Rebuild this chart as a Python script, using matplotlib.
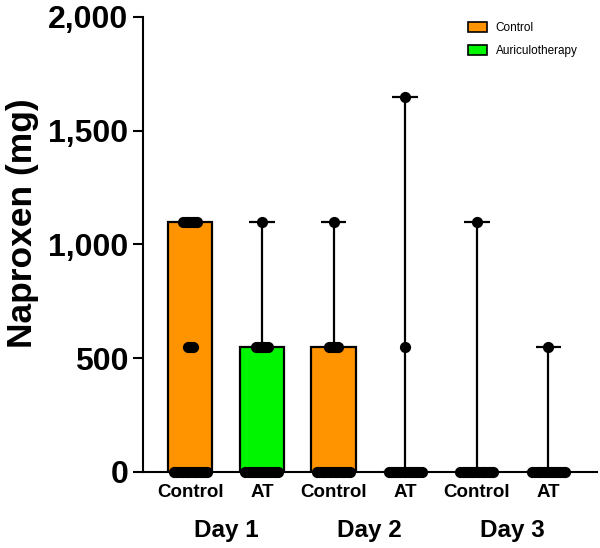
import numpy as np
import matplotlib
matplotlib.use("Agg")
import matplotlib.pyplot as plt
from matplotlib.patches import Patch
from matplotlib import transforms

plt.rcParams['font.family'] = ['Liberation Sans', 'DejaVu Sans']

# groups (two per day)
tick_labels = ['Control', 'AT', 'Control', 'AT', 'Control', 'AT']
day_labels = ['Day 1', 'Day 2', 'Day 3']
bar_heights = [1100, 550, 550, 0, 0, 0]

# individual doses (mg) per group
ctrl_d1 = [0] * 15 + [550] * 3 + [1100] * 7
at_d1 = [0] * 15 + [550] * 6 + [1100]
ctrl_d2 = [0] * 15 + [550] * 5 + [1100]
at_d2 = [0] * 15 + [550] + [1650]
ctrl_d3 = [0] * 15 + [1100]
at_d3 = [0] * 15 + [550]
points = [ctrl_d1, at_d1, ctrl_d2, at_d2, ctrl_d3, at_d3]

orange = '#FF9400'
green = '#00F500'
colors = [orange, green, orange, green, orange, green]

fig = plt.figure(figsize=(6.0, 5.48), dpi=100)
ax = fig.add_axes([0.2383, 0.1387, 0.757, 0.8303])

x = np.arange(len(tick_labels))
ax.bar(x, bar_heights, width=0.62, color=colors, edgecolor='black',
       linewidth=1.6, zorder=2)

# range whiskers
for xi, h, pts in zip(x, bar_heights, points):
    top = max(pts)
    if top > h:
        ax.vlines(xi, h, top, color='black', linewidth=1.6, zorder=3)
        ax.hlines(top, xi - 0.18, xi + 0.18, color='black', linewidth=1.6, zorder=3)

# dots, spread sideways by value
step = 0.033
for xi, pts in zip(x, points):
    vals, counts = np.unique(pts, return_counts=True)
    for v, n in zip(vals, counts):
        off = (np.arange(n) - (n - 1) / 2) * step
        ax.scatter(xi + off, [v] * n, s=65, color='black', zorder=4,
                   clip_on=False, linewidths=0)

ax.set_xlim(-0.66, 5.68)
ax.set_ylim(0, 2000)
ax.set_yticks([0, 500, 1000, 1500, 2000])
ax.set_yticklabels(['0', '500', '1,000', '1,500', '2,000'])
ax.set_xticks(x)
ax.set_xticklabels(tick_labels)

for lab in ax.get_yticklabels():
    lab.set_fontsize(23)
    lab.set_fontweight('bold')
for lab in ax.get_xticklabels():
    lab.set_fontsize(13.5)
    lab.set_fontweight('bold')

ax.tick_params(axis='y', length=7, width=1.5, pad=3.5)
ax.tick_params(axis='x', length=4, width=1.5, pad=5)
for side in ['top', 'right']:
    ax.spines[side].set_visible(False)
for side in ['left', 'bottom']:
    ax.spines[side].set_linewidth(1.5)

ax.set_ylabel('Naproxen (mg)', fontsize=25.5, fontweight='bold', va='center')
ax.yaxis.set_label_coords(-0.266, 0.547)

trans = transforms.blended_transform_factory(ax.transData, fig.transFigure)
for i, d in enumerate(day_labels):
    ax.text(2 * i + 0.5, 1 - 530 / 548, d, transform=trans, ha='center',
            va='center', fontsize=17.5, fontweight='bold')

handles = [Patch(facecolor=orange, edgecolor='black', linewidth=1.2),
           Patch(facecolor=green, edgecolor='black', linewidth=1.2)]
fig.legend(handles, ['Control', 'Auriculotherapy'], loc='upper left',
           bbox_to_anchor=(468 / 600, 1 - 22 / 548), frameon=False,
           fontsize=8.5, handlelength=1.6, handleheight=0.85,
           handletextpad=0.75, labelspacing=0.95, borderpad=0,
           borderaxespad=0)

fig.savefig('out.png', dpi=100)
